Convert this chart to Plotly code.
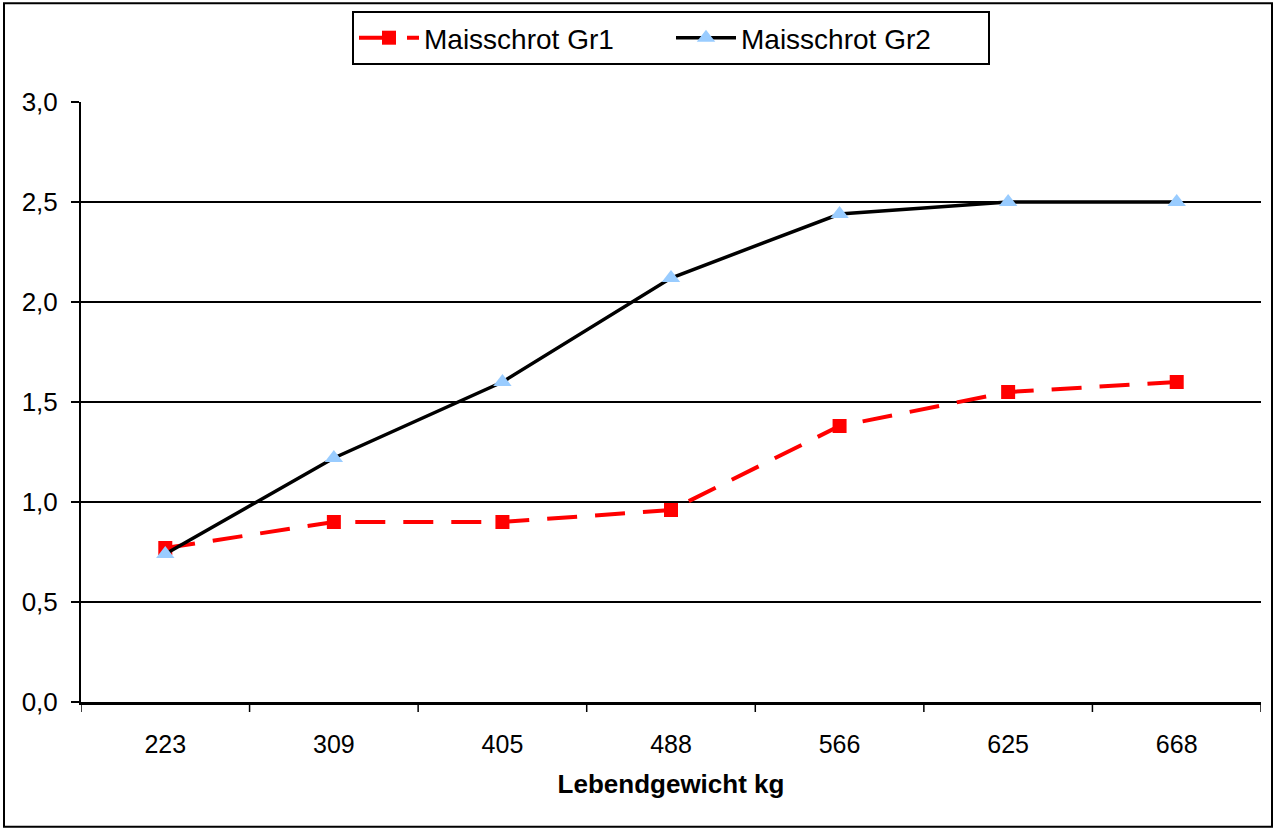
import plotly.graph_objects as go

categories = ["223", "309", "405", "488", "566", "625", "668"]
gr1_values = [0.77, 0.90, 0.90, 0.96, 1.38, 1.55, 1.60]
gr2_values = [0.74, 1.22, 1.60, 2.12, 2.44, 2.50, 2.50]
series_names = ["Maisschrot Gr1", "Maisschrot Gr2"]
x_title = "Lebendgewicht kg"

L, R, T, B = 81, 1261, 101, 702
W, H = 1274, 829
pw, ph = R - L, B - T

def px_x(p):
    return (p - L) / pw

def px_y(p):
    return (B - p) / ph

fig = go.Figure()
fig.add_trace(go.Scatter(
    x=categories, y=gr1_values, name=series_names[0], mode="lines+markers",
    line=dict(color="#ff0000", width=4, dash="30px,18px"),
    marker=dict(symbol="square", size=14, color="#ff0000"),
))
fig.add_trace(go.Scatter(
    x=categories, y=gr2_values, name=series_names[1], mode="lines+markers",
    line=dict(color="#000000", width=3.5),
    marker=dict(symbol="triangle-up", size=16, color="#99ccff"),
))

fig.update_layout(
    width=W, height=H,
    margin=dict(l=L, r=W - R, t=T, b=H - B),
    paper_bgcolor="white", plot_bgcolor="white",
    separators=",.",
    font=dict(family="Liberation Sans, Arial, sans-serif", color="black"),
    showlegend=True,
    legend=dict(
        orientation="h", x=px_x(352), xanchor="left", y=px_y(11), yanchor="top",
        bordercolor="black", borderwidth=2, bgcolor="white",
        font=dict(size=28), itemwidth=60,
        entrywidth=242, entrywidthmode="pixels",
    ),
    xaxis=dict(
        type="category", range=[-0.5, 6.5],
        showline=True, linecolor="black", linewidth=3,
        showgrid=False, ticks="", tickfont=dict(size=25),
        ticklabelstandoff=18,
        title=dict(text="<b>" + x_title + "</b>", font=dict(size=26), standoff=18),
        zeroline=False,
    ),
    yaxis=dict(
        range=[0, 3.0], dtick=0.5, tickformat=".1f",
        showline=True, linecolor="black", linewidth=2,
        showgrid=True, gridcolor="black", gridwidth=1.5,
        ticks="outside", ticklen=8, tickcolor="black", tickwidth=1.5,
        ticklabelstandoff=8,
        tickfont=dict(size=26), zeroline=False,
    ),
)

# x-axis tick marks at category boundaries
for i in range(len(categories) + 1):
    fig.add_shape(type="line", xref="x", yref="paper",
                  x0=i - 0.5, x1=i - 0.5, y0=0, y1=-10 / ph,
                  line=dict(color="black", width=1.5))

# outer chart frame
fig.add_shape(type="rect", xref="paper", yref="paper",
              x0=px_x(4), x1=px_x(1272), y0=px_y(827), y1=px_y(2),
              line=dict(color="black", width=2), layer="below")

fig.write_html("out.html", config={"displayModeBar": False},
               post_script="document.body.style.margin='0';document.body.style.overflow='hidden';")
